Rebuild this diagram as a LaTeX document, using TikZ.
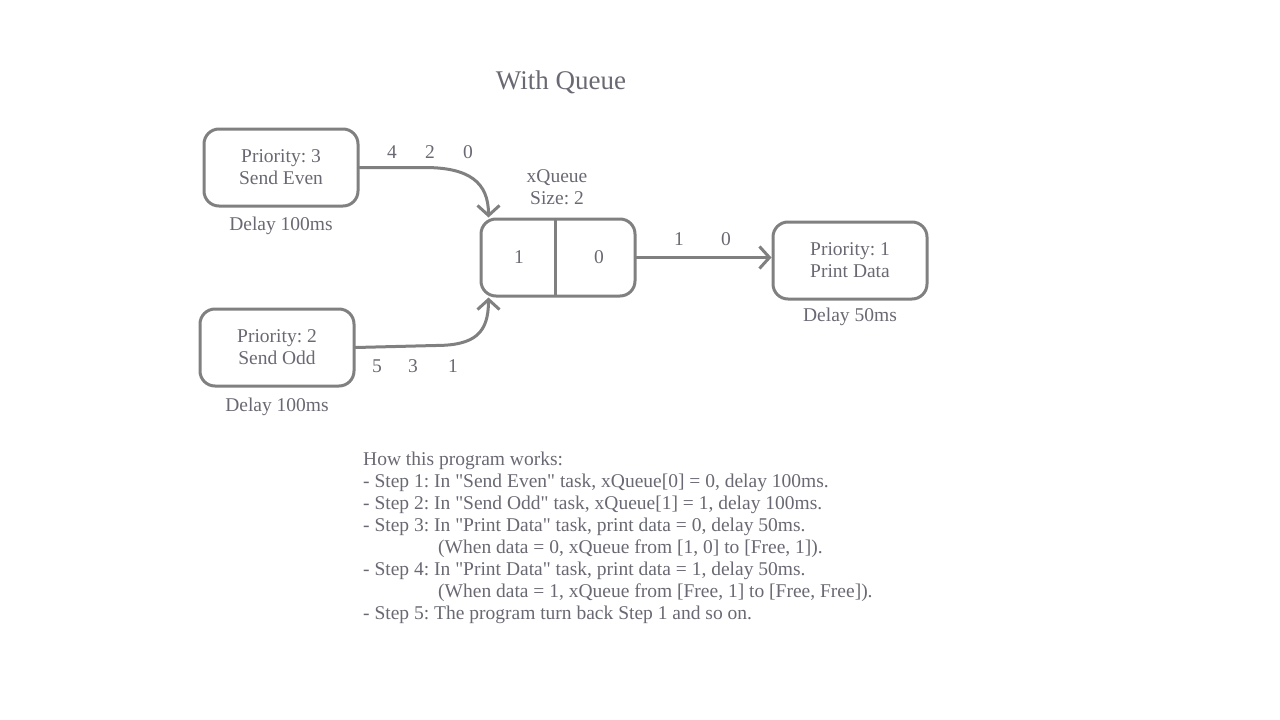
\documentclass[tikz,border=0pt]{standalone}
\usepackage{fontspec}
\setmainfont{Liberation Serif}
\usetikzlibrary{arrows.meta}
\definecolor{linegray}{RGB}{128,128,128}
\definecolor{txtgray}{RGB}{105,105,115}
\frenchspacing
\begin{document}
\begin{tikzpicture}[x=1pt,y=-1pt,line join=round,line cap=round,
	font=\fontsize{19.5}{22}\selectfont,
	task/.style={draw=linegray,line width=3pt,rounded corners=15pt,minimum width=154pt,minimum height=77pt,align=center,text=txtgray},
	lbl/.style={text=txtgray,inner sep=0pt,align=center},
	flow/.style={draw=linegray,line width=3pt,-{Straight Barb[length=10pt,width=22pt]}}]
		\useasboundingbox (0,0) rectangle (1280,720);
		\node[lbl,font=\fontsize{27}{30}\selectfont] (title) at (561,82) {With Queue};
		% tasks
		\node[task] (even) at (281,167.5) {Priority: 3\\Send Even};
		\node[task] (odd) at (277,347.5) {Priority: 2\\Send Odd};
		\node[task] (print) at (850,260.5) {Priority: 1\\Print Data};
		\node[lbl] (evendelay) at ([yshift=-18]even.south) {Delay 100ms};
		\node[lbl] (odddelay) at ([yshift=-19]odd.south) {Delay 100ms};
		\node[lbl] (printdelay) at ([yshift=-16]print.south) {Delay 50ms};
		% queue
		\node[task] (queue) at (558,257.5) {};
		\draw[linegray,line width=3pt,shorten <=2pt,shorten >=2pt] ([xshift=-3]queue.north) -- ([xshift=-3]queue.south);
		\node[lbl] (cell1) at ([xshift=-39]queue.center) {1};
		\node[lbl] (cell0) at ([xshift=41]queue.center) {0};
		\node[lbl] (qname) at (557,187) {xQueue\\Size: 2};
		\coordinate (qin1) at ([xshift=9]queue.north west);
		\coordinate (qin2) at ([xshift=9]queue.south west);
		% data
		\foreach \v/\x in {4/392,2/430,0/468} \node[lbl] (ev\v) at (\x,152) {\v};
		\foreach \v/\x in {5/377,3/413,1/453} \node[lbl] (od\v) at (\x,366) {\v};
		\foreach \v/\x in {1/679,0/726} \node[lbl] (pr\v) at (\x,239) {\v};
		\draw[flow] (even.east) -- ++(65,0) .. controls +(45,0) and +(0,-35) .. (qin1);
		\draw[flow] (odd.east) -- ++(80,-2) .. controls +(40,0) and +(0,35) .. (qin2);
		\draw[flow] (queue.east) -- (queue.east -| print.west);
		% how it works
		\node[lbl,anchor=north west,align=left] (steps) at (363,452) {How this program works:\\
			- Step 1: In \textquotedbl Send Even\textquotedbl{} task, xQueue[0] = 0, delay 100ms.\\
			- Step 2: In \textquotedbl Send Odd\textquotedbl{} task, xQueue[1] = 1, delay 100ms.\\
			- Step 3: In \textquotedbl Print Data\textquotedbl{} task, print data = 0, delay 50ms.\\
			\hspace*{75pt}(When data = 0, xQueue from [1, 0] to [Free, 1]).\\
			- Step 4: In \textquotedbl Print Data\textquotedbl{} task, print data = 1, delay 50ms.\\
			\hspace*{75pt}(When data = 1, xQueue from [Free, 1] to [Free, Free]).\\
			- Step 5: The program turn back Step 1 and so on.};
\end{tikzpicture}
\end{document}
